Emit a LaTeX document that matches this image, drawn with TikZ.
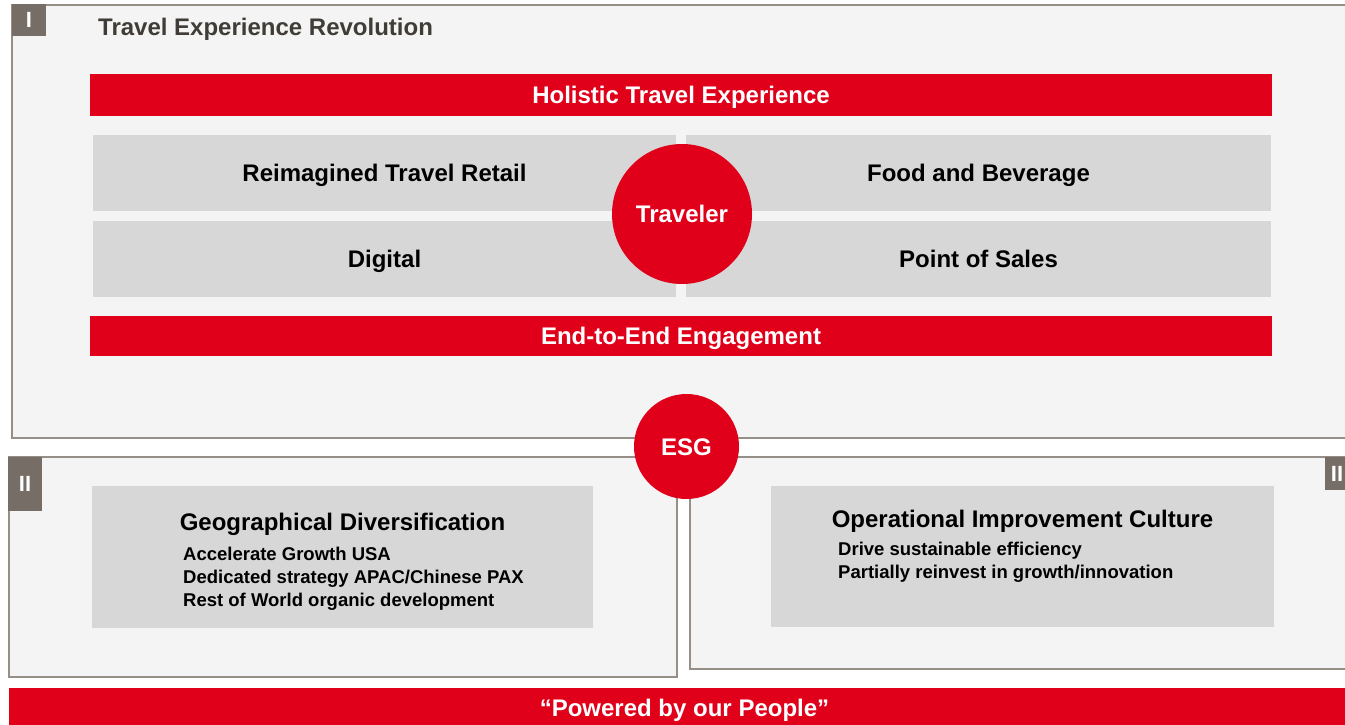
\documentclass[tikz,border=0pt]{standalone}
\usepackage{fontspec}
\setmainfont{Liberation Sans}
\usetikzlibrary{positioning}

\definecolor{brandred}{RGB}{224,0,26}
\definecolor{panelgrey}{RGB}{244,244,244}
\definecolor{cellgrey}{RGB}{215,215,215}
\definecolor{framegrey}{RGB}{150,143,135}
\definecolor{taggrey}{RGB}{117,109,102}
\definecolor{headgrey}{RGB}{64,61,57}

\newcommand{\bigbold}{\fontsize{24}{28}\selectfont\bfseries}
\newcommand{\smallbold}{\fontsize{18.5}{23}\selectfont\bfseries}

\begin{document}
\begin{tikzpicture}[x=1pt, y=-1pt,
panel/.style={draw=framegrey, line width=1.8pt, fill=panelgrey},
tag/.style={fill=taggrey, text=white, font=\fontsize{22}{22}\selectfont\bfseries, inner sep=0pt, outer sep=0pt, minimum width=34pt, anchor=north west, text height=15.8pt, text depth=0pt},
bar/.style={fill=brandred, text=white, font=\bigbold, inner sep=0pt, outer sep=0pt, minimum width=1182pt, text height=17pt, text depth=0pt},
cell/.style={fill=cellgrey, font=\bigbold, inner sep=0pt, outer sep=0pt, minimum width=583pt, minimum height=76pt, text height=17pt, text depth=0pt},
hub/.style={circle, fill=brandred, text=white, font=\bigbold, inner sep=0pt, text height=17pt, text depth=0pt},
item/.style={font=\smallbold, inner sep=0pt, anchor=base west}
]
\useasboundingbox (0,0) rectangle (1345,725);
\clip (0,0) rectangle (1345,725);
\fill[white] (0,0) rectangle (1345,725);

%Frames
\draw[panel] (12,5) rectangle (1360,438);
\draw[panel] (9,457) rectangle (677,677);
\draw[panel] (690,457) rectangle (1360,669);

%Tags
\node[tag, minimum height=32pt]                   (tag1) at (12,4)     {I};
\node[tag, minimum height=54pt]                   (tag2) at (8,457)    {II};
\node[tag, minimum height=33pt, minimum width=24pt] (tag3) at (1325,457) {II};

\node[font=\bigbold, text=headgrey, anchor=base west, inner sep=0pt] (title) at (98,36) {Travel Experience Revolution};

%Travel experience block
\node[bar, minimum height=42pt] (hte) at (681,95)  {Holistic Travel Experience};
\node[cell]                     (rtr) at (384.5,173) {Reimagined Travel Retail};
\node[cell, right=10pt of rtr, minimum width=585pt] (fnb) {Food and Beverage};
\node[cell, below=10pt of rtr]  (dig) {Digital};
\node[cell, below=10pt of fnb, minimum width=585pt]  (pos) {Point of Sales};
\node[bar, minimum height=40pt] (e2e) at (681,336) {End-to-End Engagement};
\node[hub, minimum size=140pt]  (trav) at (682,214) {Traveler};

%Lower blocks
\node[cell, minimum width=501pt, minimum height=142pt, anchor=north west] (geo) at (92,486) {};
\node[font=\bigbold, anchor=base, inner sep=0pt] (geohead) at (342.5,530) {Geographical Diversification};
\node[item] (geo1) at (183,560) {Accelerate Growth USA};
\node[item] (geo2) at (183,583) {Dedicated strategy APAC/Chinese PAX};
\node[item] (geo3) at (183,606) {Rest of World organic development};

\node[cell, minimum width=503pt, minimum height=141pt, anchor=north west] (opi) at (771,486) {};
\node[font=\bigbold, anchor=base, inner sep=0pt] (opihead) at (1022.5,527) {Operational Improvement Culture};
\node[item] (opi1) at (838,555) {Drive sustainable efficiency};
\node[item] (opi2) at (838,578) {Partially reinvest in growth/innovation};

\node[hub, minimum size=105pt] (esg) at (686.5,446.5) {ESG};

%Footer
\node[bar, minimum width=1351pt, minimum height=40pt, anchor=north west] (ppl) at (9,688) {“Powered by our People”};
\end{tikzpicture}
\end{document}
